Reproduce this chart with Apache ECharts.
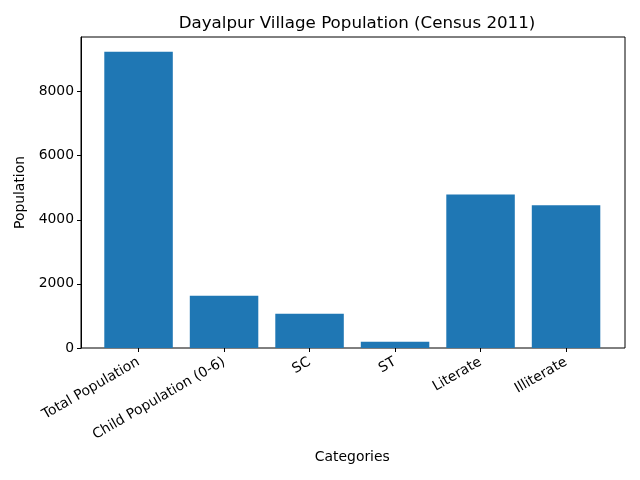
<!DOCTYPE html>
<html><head><meta charset="utf-8">
<script src="https://cdn.jsdelivr.net/npm/echarts@6/dist/echarts.min.js"></script>
<style>html,body{margin:0;padding:0;background:#fff}#c{width:640px;height:480px}</style>
</head><body><div id="c"></div>
<script>
const categories = ['Total Population', 'Child Population (0-6)', 'SC', 'ST', 'Literate', 'Illiterate'];
const populationValues = [9240, 1630, 1070, 197, 4790, 4450];
const yTicks = [0, 2000, 4000, 6000, 8000];

const yMax = 9702;
const font = 'DejaVu Sans';
const chart = echarts.init(document.getElementById('c'), null, {renderer: 'canvas'});
chart.setOption({
  animation: false,
  backgroundColor: '#fff',
  title: {
    text: 'Dayalpur Village Population (Census 2011)',
    left: 352, top: 10, textAlign: 'center',
    textStyle: {fontFamily: font, fontSize: 16.7, fontWeight: 'normal', color: '#000'}
  },
  grid: [
    {left: 81, top: 37, width: 544, height: 311, show: true, borderColor: '#000', borderWidth: 1, backgroundColor: 'transparent'},
    {left: 95.8, top: 37, width: 513, height: 311}
  ],
  xAxis: [
    {gridIndex: 0, type: 'value', min: 0, max: 1, show: false},
    {gridIndex: 1, type: 'category', data: categories,
     axisLine: {show: false},
     axisTick: {show: true, alignWithLabel: true, length: 4, lineStyle: {color: '#000'}},
     axisLabel: {rotate: 30, margin: 13, fontFamily: font, fontSize: 13.9, color: '#000'},
     name: 'Categories', nameLocation: 'middle', nameGap: 102,
     nameTextStyle: {fontFamily: font, fontSize: 13.9, color: '#000'}}
  ],
  yAxis: [
    {gridIndex: 0, type: 'value', min: 0, max: yMax,
     axisLine: {show: true, lineStyle: {color: '#000'}},
     axisTick: {show: true, length: 4, lineStyle: {color: '#000'}, customValues: yTicks},
     splitLine: {show: false},
     axisLabel: {margin: 7, fontFamily: font, fontSize: 13.9, color: '#000', customValues: yTicks,
       formatter: v => String(v)},
     name: 'Population', nameLocation: 'middle', nameGap: 51,
     nameTextStyle: {fontFamily: font, fontSize: 13.9, color: '#000'}},
    {gridIndex: 1, type: 'value', min: 0, max: yMax, show: false}
  ],
  series: [{
    type: 'bar', xAxisIndex: 1, yAxisIndex: 1,
    data: populationValues, barWidth: 68.5,
    itemStyle: {color: '#1f77b4'}
  }]
});
</script></body></html>
